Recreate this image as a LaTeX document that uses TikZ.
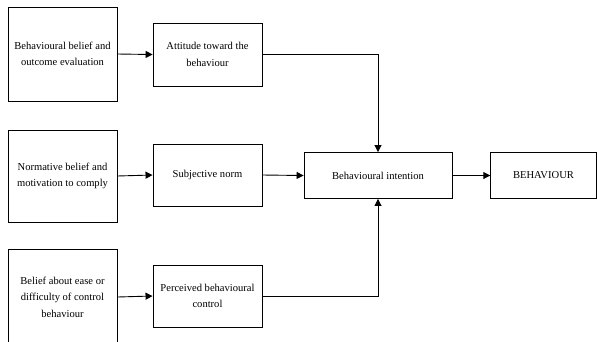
\documentclass[tikz,border=0pt]{standalone}
\usepackage{fontspec}
\setmainfont{Liberation Serif}
\usetikzlibrary{arrows.meta}
\begin{document}
\begin{tikzpicture}[x=1bp,y=-1bp,
        box/.style = {draw,line width=0.9bp,align=center,
            font=\fontsize{10.6}{16.5}\selectfont,inner sep=0pt},
        arrow/.style = {line width=0.9bp,-{Triangle[length=7bp,width=7bp]}}]
                \useasboundingbox (0,0) rectangle (597,341);
                % left column
                \node[box,minimum width=109bp,minimum height=94bp] (bbelief)
                    at (62.5,54) {Behavioural belief and\\outcome evaluation};
                \node[box,minimum width=109bp,minimum height=92bp] (nbelief)
                    at (62.5,176) {Normative belief and\\motivation to comply};
                \node[box,minimum width=109bp,minimum height=96bp] (ease)
                    at (62.5,297) {Belief about ease or\\difficulty of control\\behaviour};
                % middle column
                \node[box,minimum width=109bp,minimum height=63bp] (attitude)
                    at (207.5,54.5) {Attitude toward the\\behaviour};
                \node[box,minimum width=109bp,minimum height=62bp] (subjnorm)
                    at (207.5,175) {Subjective norm};
                \node[box,minimum width=109bp,minimum height=62bp] (perceived)
                    at (207.5,296) {Perceived behavioural\\control};
                % right
                \node[box,minimum width=148bp,minimum height=46bp] (intention)
                    at (378,175.5) {Behavioural intention};
                \node[box,minimum width=105.5bp,minimum height=46bp] (behaviour)
                    at (543.5,175.5) {BEHAVIOUR};

                \draw[arrow] (bbelief.east) -- (attitude.west);
                \draw[arrow] (nbelief.east) -- (subjnorm.west);
                \draw[arrow] (ease.east) -- (perceived.west);
                \draw[arrow] (attitude.east) -| (intention.north);
                \draw[arrow] (subjnorm.east) -- (intention.west);
                \draw[arrow] (perceived.east) -| (intention.south);
                \draw[arrow] (intention.east) -- (behaviour.west);
            \end{tikzpicture}
\end{document}
